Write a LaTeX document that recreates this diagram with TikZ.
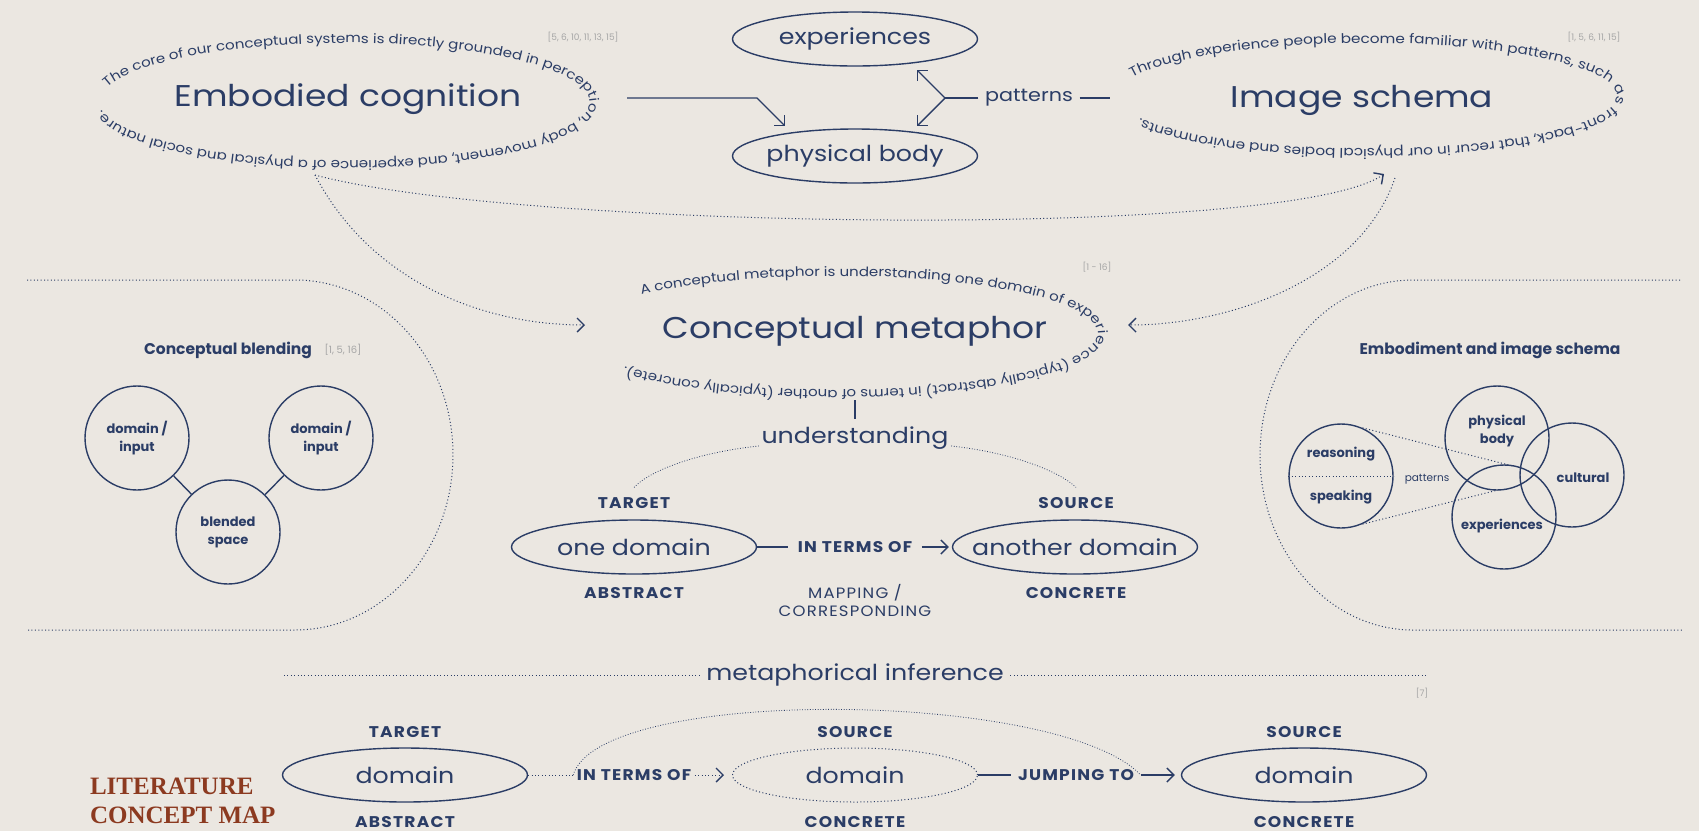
\documentclass[tikz,border=0pt]{standalone}
\usepackage{fontspec}
\usetikzlibrary{shapes.geometric, arrows.meta, decorations.text, calc}

\setmainfont{Poppins}
\newfontfamily\widefont[FakeStretch = 1.15]{Poppins}
\newfontfamily\capsfont[FakeStretch = 1.1, LetterSpace = 8]{Poppins}
\newfontfamily\bannerfont{Liberation Serif}

\definecolor{paper}{HTML}{EBE7E1}
\definecolor{ink}{HTML}{2B3D66}
\definecolor{cite}{HTML}{A6A6A6}
\definecolor{rust}{HTML}{8C3A20}

% text kept out of the oval's size
\newcommand{\ovaltext}[1]{\makebox[0pt]{#1}}

\begin{document}
\begin{tikzpicture}[x = 1pt, y = -1pt, line width = 1.4pt, draw = ink, text = ink,
	oval/.style = {ellipse, draw, minimum width = 245pt, minimum height = 54pt, inner sep = 0pt, font = \widefont\fontsize{22}{22}\selectfont},
	disc/.style = {circle, draw, minimum size = 104pt, inner sep = 0pt, align = center, font = \bfseries\fontsize{13}{18}\selectfont},
	word/.style = {align = center, font = \bfseries\fontsize{13}{18}\selectfont},
	bigname/.style = {anchor = base, font = \widefont\fontsize{30}{30}\selectfont},
	tag/.style = {font = \capsfont\bfseries\fontsize{15.5}{15.5}\selectfont},
	cites/.style = {text = cite, font = \fontsize{9}{9}\selectfont},
	dots/.style = {line width = 1pt, dash pattern = on 1pt off 2.4pt},
	fine/.style = {line width = 0.8pt, dash pattern = on 0.8pt off 1.8pt},
	barb/.style = {-{Straight Barb[length = 7pt, width = 14pt, line width = 1.4pt]}},
	ring/.style 2 args = {decorate, decoration = {text along path, text align = left, text = {|\widefont\fontsize{#1}{#1}\selectfont\color{ink}|#2}}}
	]

	% Page

	\fill [paper] (0, 0) rectangle (1699, 831);
	\useasboundingbox (0, 0) rectangle (1699, 831);

	% Text rings (y pointing up here)

	\begin{scope}[y = 1pt]
	\path [ring = {13.1}{The core of our conceptual systems is directly grounded in perception, body movement, and experience of a physical and social nature.}]
		plot [domain = 0:350, samples = 234] ({345 + 245*cos(166 - \x)}, {-102 + 59*sin(166 - \x)});
	\path [ring = {13.3}{Through experience people become familiar with patterns, such as front-back, that recur in our physical bodies and environments.}]
		plot [domain = 0:345, samples = 231] ({1367 + 250*cos(160 - \x)}, {-96 + 53*sin(160 - \x)});
	\path [ring = {13.1}{A conceptual metaphor is understanding one domain of experience (typically abstract) in terms of another (typically concrete).}]
		plot [domain = 0:315, samples = 211] ({836 + 262*cos(138 - \x)}, {-333 + 57*sin(138 - \x)});
	\end{scope}

	% Embodied cognition

	\node [bigname] (embodied) at (348, 106) {Embodied cognition};
	\node [cites] (ecRef) at (583, 37) {[5, 6, 10, 11, 13, 15]};

	% Experiences and physical body

	\node [oval] (exper) at (855, 39) {\ovaltext{experiences}};
	\node [oval] (body) at (855, 156) {\ovaltext{physical body}};
	\node [font = \widefont\fontsize{18}{18}\selectfont, inner sep = 6pt] (patterns) at (1029, 98) {patterns};

	\coordinate (ecR) at (627, 98);
	\coordinate (elbow) at (757, 98);
	\coordinate (bodyIn) at (785, 126);
	\coordinate (fork) at (945, 98);
	\coordinate (toExp) at (917, 70);
	\coordinate (toBody) at (917, 126);
	\coordinate (isL) at (1110, 98);

	\draw [barb] (ecR) -- (elbow) -- (bodyIn);
	\draw (patterns.west) -- (fork);
	\draw [barb] (fork) -- (toExp);
	\draw [barb] (fork) -- (toBody);
	\draw (patterns.east) -- (isL);

	% Image schema

	\node [bigname] (schema) at (1362, 107) {Image schema};
	\node [cites] (isRef) at (1594, 37) {[1, 5, 6, 11, 15]};

	% Dotted links to the conceptual metaphor

	\coordinate (ecB) at (315, 175);
	\coordinate (isB) at (1384, 174);
	\coordinate (isB2) at (1395, 178);
	\coordinate (cmL) at (585, 325);
	\coordinate (cmR) at (1128, 325);

	\draw [dots, barb] (ecB) .. controls (520, 230) and (1290, 240) .. (isB);
	\draw [dots, barb] (ecB) .. controls (370, 280) and (480, 325) .. (cmL);
	\draw [dots, barb] (isB2) .. controls (1360, 280) and (1230, 325) .. (cmR);

	% Conceptual metaphor

	\node [bigname] (metaphor) at (855, 338) {Conceptual metaphor};
	\node [cites] (cmRef) at (1097, 267) {[1 - 16]};

	\coordinate (cmB) at (855, 400);
	\node [font = \widefont\fontsize{22}{22}\selectfont, inner sep = 2pt] (understanding) at (855, 438) {understanding};
	\draw (cmB) -- ([yshift = 5pt]understanding.north);

	\node [tag] (target) at (634, 503) {TARGET};
	\node [tag] (source) at (1076, 503) {SOURCE};
	\draw [fine] ([yshift = -8pt]understanding.west) .. controls (700, 452) and (650, 470) .. ([yshift = 6pt]target.north);
	\draw [fine] ([yshift = -8pt]understanding.east) .. controls (1008, 452) and (1058, 470) .. ([yshift = 6pt]source.north);

	\node [oval] (oneDom) at (634, 547) {\ovaltext{one domain}};
	\node [oval] (anotherDom) at (1075, 547) {\ovaltext{another domain}};
	\node [tag, inner xsep = 9pt] (inTerms) at (855, 547) {IN TERMS OF};
	\draw (oneDom) -- (inTerms);
	\draw [barb, shorten > = 3pt] (inTerms) -- (anotherDom);

	\node [tag] (abstract) at (634, 593) {ABSTRACT};
	\node [tag] (concrete) at (1076, 593) {CONCRETE};
	\node [font = \capsfont\fontsize{15}{18}\selectfont, align = center] (mapping) at (855, 600) {MAPPING /\\CORRESPONDING};

	% Conceptual blending

	\draw [dots] (27, 280) -- (295, 280) arc [start angle = 90, end angle = -90, x radius = 158pt, y radius = 175pt] -- (27, 630);
	\node [font = \bfseries\fontsize{15.5}{15.5}\selectfont] (blendTitle) at (228, 350) {Conceptual blending};
	\node [cites, font = \fontsize{10}{10}\selectfont] (blendRef) at (343, 350) {[1, 5, 16]};

	\node [disc] (inputA) at (137, 438) {domain /\\input};
	\node [disc] (inputB) at (321, 438) {domain /\\input};
	\node [disc] (blend) at (228, 532) {blended\\space};
	\draw (inputA) -- (blend);
	\draw (inputB) -- (blend);

	% Embodiment and image schema

	\draw [dots] (1680, 280) -- (1413, 280) arc [start angle = 90, end angle = 270, x radius = 153pt, y radius = 175pt] -- (1683, 630);
	\node [font = \bfseries\fontsize{15.5}{15.5}\selectfont] (venTitle) at (1490, 350) {Embodiment and image schema};

	\node [disc] (reason) at (1341, 476) {};
	\node [disc] (pbody) at (1497, 438) {};
	\node [disc] (cultural) at (1572, 475) {};
	\node [disc] (experV) at (1504, 517) {};
	\draw [dots] (reason.west) -- (reason.east);

	\node [word] (reasonTxt) at (1341, 454) {reasoning};
	\node [word] (speakTxt) at (1341, 497) {speaking};
	\node [word] (pbodyTxt) at (1497, 431) {physical\\body};
	\node [word] (cultTxt) at (1583, 478) {cultural};
	\node [word] (experTxt) at (1502, 526) {experiences};
	\node [font = \fontsize{10.5}{10.5}\selectfont] (patV) at (1427, 479) {patterns};

	\coordinate (patA) at (1513, 466);
	\coordinate (patB) at (1498, 490);
	\draw [dots] (reason.66) -- (patA);
	\draw [dots] (reason.-66) -- (patB);

	% Metaphorical inference

	\node [font = \widefont\fontsize{22}{22}\selectfont, inner xsep = 6pt] (inference) at (855, 675) {metaphorical inference};
	\coordinate (infL) at (284, 675);
	\coordinate (infR) at (1426, 675);
	\draw [dots] (infL) -- (inference);
	\draw [dots] (inference) -- (infR);
	\node [cites] (infRef) at (1422, 693) {[7]};

	\node [tag] (target2) at (405, 732) {TARGET};
	\node [oval] (domA) at (405, 775) {\ovaltext{domain}};
	\node [tag] (abstract2) at (405, 822) {ABSTRACT};

	\node [tag] (source2) at (855, 732) {SOURCE};
	\node [oval, dots] (domB) at (855, 775) {\ovaltext{domain}};
	\node [tag] (concrete2) at (855, 822) {CONCRETE};

	\node [tag] (source3) at (1304, 732) {SOURCE};
	\node [oval] (domC) at (1304, 775) {\ovaltext{domain}};
	\node [tag] (concrete3) at (1304, 822) {CONCRETE};

	\node [tag, inner xsep = 3pt] (inTerms2) at (634, 775) {IN TERMS OF};
	\node [tag, inner xsep = 6pt] (jump) at (1076, 775) {JUMPING TO};
	\draw [dots] (domA) -- (inTerms2);
	\draw [dots, barb, shorten > = 8pt] (inTerms2) -- (domB);
	\draw (domB) -- (jump);
	\draw [barb, shorten > = 6pt] (jump) -- (domC);
	\draw [fine] (inTerms2.west) .. controls (600, 685) and (1060, 690) .. (jump.east);

	% Banner

	\node [anchor = base west, text = rust, font = \bannerfont\bfseries\fontsize{25}{25}\selectfont] (litA) at (86, 794) {LITERATURE};
	\node [anchor = base west, text = rust, font = \bannerfont\bfseries\fontsize{25}{25}\selectfont] (litB) at (86, 823) {CONCEPT MAP};

\end{tikzpicture}
\end{document}
